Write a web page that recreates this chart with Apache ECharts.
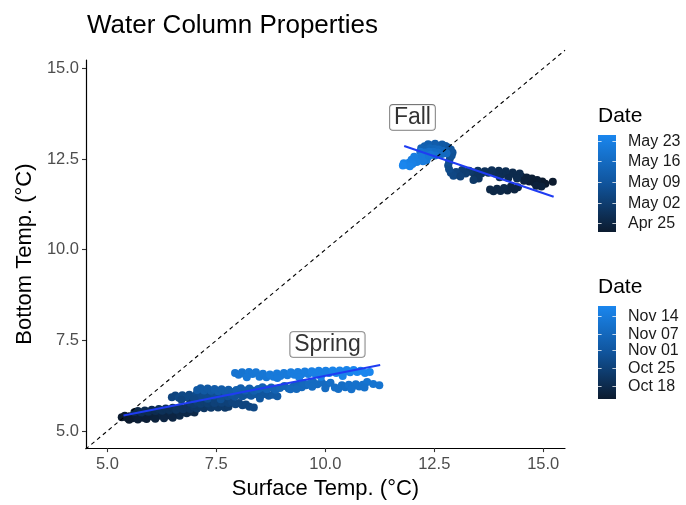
<!DOCTYPE html>
<html>
<head>
<meta charset="utf-8">
<title>Water Column Properties</title>
<script src="https://cdn.jsdelivr.net/npm/echarts@6/dist/echarts.min.js"></script>
<style>
  html, body { margin: 0; padding: 0; background: #ffffff; }
  #chart { width: 686px; height: 505px; }
</style>
</head>
<body>
<div id="chart"></div>
<script>
// Axis tick values
const xTicks = [5, 7.5, 10, 12.5, 15];
const yTicks = [5, 7.5, 10, 12.5, 15];

// Spring observations: [surface temp, bottom temp, date (MM-DD)]
const springObs = [
  [5.33,5.38,'04-22'],[5.40,5.42,'04-22'],[5.46,5.36,'04-22'],[5.52,5.41,'04-22'],[5.58,5.35,'04-23'],
  [5.64,5.43,'04-23'],[5.70,5.38,'04-23'],[5.76,5.45,'04-23'],[5.82,5.37,'04-23'],[5.88,5.44,'04-24'],
  [5.94,5.40,'04-24'],[6.00,5.47,'04-24'],[6.06,5.39,'04-24'],[6.12,5.46,'04-24'],[6.18,5.42,'04-25'],
  [6.24,5.49,'04-25'],[6.30,5.41,'04-25'],[6.36,5.47,'04-25'],[6.42,5.43,'04-25'],[6.48,5.50,'04-26'],
  [6.54,5.44,'04-26'],[6.60,5.48,'04-26'],[6.66,5.42,'04-26'],[6.74,5.52,'04-26'],[6.82,5.49,'04-26'],
  [6.90,5.53,'04-26'],[7.00,5.51,'04-26'],
  [5.50,5.31,'04-22'],[5.70,5.32,'04-23'],[5.90,5.33,'04-23'],[6.10,5.34,'04-24'],[6.30,5.35,'04-25'],
  [6.50,5.37,'04-25'],
  [5.62,5.52,'04-26'],[5.70,5.55,'04-26'],[5.78,5.51,'04-27'],[5.86,5.57,'04-27'],[5.94,5.53,'04-27'],
  [6.02,5.59,'04-27'],[6.10,5.55,'04-27'],[6.18,5.61,'04-28'],[6.26,5.56,'04-28'],[6.34,5.62,'04-28'],
  [6.42,5.58,'04-28'],[6.50,5.64,'04-28'],[6.58,5.59,'04-29'],[6.66,5.65,'04-29'],[6.74,5.60,'04-29'],
  [6.82,5.66,'04-29'],[6.90,5.61,'04-29'],[6.98,5.67,'04-30'],[7.06,5.62,'04-30'],[7.14,5.68,'04-30'],
  [7.22,5.63,'04-30'],[7.30,5.69,'04-30'],[7.38,5.64,'05-01'],[7.46,5.70,'05-01'],[7.54,5.65,'05-01'],
  [7.62,5.69,'05-01'],[7.70,5.64,'05-01'],[7.78,5.67,'05-01'],
  [6.90,5.78,'05-01'],[6.98,5.74,'05-01'],[7.06,5.80,'05-02'],[7.14,5.75,'05-02'],[7.22,5.81,'05-02'],
  [7.30,5.76,'05-02'],[7.38,5.82,'05-02'],[7.46,5.77,'05-03'],[7.54,5.83,'05-03'],[7.62,5.78,'05-03'],
  [7.70,5.82,'05-03'],[7.78,5.77,'05-03'],[7.86,5.80,'05-04'],[7.94,5.74,'05-04'],[8.02,5.77,'05-04'],
  [8.10,5.71,'05-04'],[8.18,5.73,'05-04'],[8.26,5.67,'05-04'],[8.36,5.65,'05-05'],
  [6.48,5.93,'05-04'],[6.56,5.98,'05-04'],[6.64,5.92,'05-05'],[6.72,5.99,'05-05'],[6.80,5.93,'05-05'],
  [6.88,6.00,'05-05'],[6.96,5.94,'05-05'],[7.04,6.01,'05-06'],[7.12,5.95,'05-06'],[7.20,6.02,'05-06'],
  [7.28,5.96,'05-06'],[7.36,6.02,'05-06'],[7.44,5.97,'05-07'],[7.52,6.03,'05-07'],[7.60,5.97,'05-07'],
  [7.68,6.02,'05-07'],[7.76,5.96,'05-07'],[7.84,6.01,'05-08'],[7.92,5.95,'05-08'],[8.00,6.00,'05-08'],
  [8.10,5.96,'05-08'],[8.20,6.01,'05-08'],[8.30,5.97,'05-09'],[8.40,6.02,'05-09'],[8.50,5.98,'05-09'],
  [8.60,6.02,'05-09'],[8.70,5.97,'05-09'],[8.80,6.00,'05-10'],[8.90,5.96,'05-10'],
  [6.70,5.86,'05-04'],[7.00,5.88,'05-05'],[7.30,5.89,'05-06'],[7.60,5.88,'05-07'],[8.50,5.90,'05-09'],
  [7.06,6.13,'05-10'],[7.14,6.18,'05-10'],[7.22,6.12,'05-10'],[7.30,6.17,'05-10'],[7.38,6.11,'05-10'],
  [7.46,6.16,'05-11'],[7.54,6.10,'05-11'],[7.62,6.15,'05-11'],[7.70,6.09,'05-11'],[7.78,6.14,'05-11'],
  [7.86,6.08,'05-11'],[7.96,6.13,'05-12'],[8.06,6.18,'05-12'],[8.16,6.12,'05-12'],[8.26,6.17,'05-12'],
  [8.36,6.11,'05-12'],[8.46,6.16,'05-13'],[8.56,6.21,'05-13'],[8.66,6.15,'05-13'],[8.76,6.20,'05-13'],
  [8.86,6.14,'05-13'],[8.96,6.19,'05-14'],[9.06,6.24,'05-14'],[9.16,6.17,'05-14'],[9.26,6.22,'05-14'],
  [9.36,6.27,'05-14'],[9.46,6.21,'05-15'],[9.56,6.26,'05-15'],
  [9.20,6.15,'05-15'],[9.34,6.16,'05-15'],[9.50,6.32,'05-15'],[9.62,6.30,'05-16'],[9.72,6.36,'05-16'],
  [9.82,6.29,'05-16'],[9.92,6.34,'05-16'],[10.02,6.27,'05-16'],[10.12,6.33,'05-17'],[10.22,6.20,'05-17'],
  [10.30,6.16,'05-17'],[10.38,6.26,'05-17'],[10.46,6.21,'05-17'],[10.54,6.28,'05-18'],[10.62,6.22,'05-18'],
  [10.70,6.29,'05-18'],[10.78,6.23,'05-18'],[10.86,6.28,'05-18'],[10.96,6.35,'05-19'],[11.10,6.30,'05-19'],
  [11.24,6.26,'05-19'],
  [9.70,6.22,'05-16'],[10.00,6.18,'05-16'],[10.60,6.15,'05-18'],[10.90,6.20,'05-18'],
  [7.93,6.60,'05-19'],[8.01,6.55,'05-19'],[8.09,6.62,'05-19'],[8.17,6.56,'05-19'],[8.25,6.63,'05-20'],
  [8.33,6.57,'05-20'],[8.41,6.62,'05-20'],[8.49,6.50,'05-20'],[8.57,6.58,'05-20'],[8.65,6.48,'05-20'],
  [8.73,6.56,'05-21'],[8.81,6.50,'05-21'],[8.89,6.59,'05-21'],[8.97,6.52,'05-21'],[9.05,6.60,'05-21'],
  [9.13,6.54,'05-21'],[9.21,6.62,'05-22'],[9.29,6.55,'05-22'],[9.37,6.63,'05-22'],[9.45,6.56,'05-22'],
  [9.53,6.64,'05-22'],[9.61,6.57,'05-22'],[9.69,6.65,'05-23'],[9.77,6.58,'05-23'],[9.85,6.66,'05-23'],
  [9.93,6.59,'05-23'],[10.01,6.66,'05-23'],[10.09,6.60,'05-23'],[10.17,6.67,'05-24'],[10.25,6.60,'05-24'],
  [10.33,6.67,'05-24'],[10.41,6.61,'05-24'],[10.49,6.68,'05-24'],[10.57,6.62,'05-24'],[10.65,6.68,'05-25'],
  [10.73,6.63,'05-25'],[10.81,6.66,'05-25'],[10.91,6.60,'05-25'],[11.02,6.63,'05-25'],
  [8.20,6.48,'05-20'],[8.90,6.46,'05-21'],[9.40,6.48,'05-22'],[9.90,6.50,'05-23'],[10.40,6.52,'05-24']
];

// Fall observations: [surface temp, bottom temp, date (MM-DD)]
const fallObs = [
  [15.22,11.87,'10-13'],
  [15.05,11.82,'10-13'],[14.98,11.88,'10-13'],[14.92,11.78,'10-13'],[14.86,11.92,'10-14'],[14.80,11.84,'10-14'],
  [14.74,11.96,'10-14'],[14.68,11.88,'10-14'],[14.62,11.99,'10-15'],[14.56,11.90,'10-15'],[14.50,12.02,'10-15'],
  [14.84,11.76,'10-15'],[14.96,11.74,'10-15'],
  [14.42,11.72,'10-16'],[14.34,11.66,'10-16'],[14.26,11.74,'10-16'],[14.18,11.63,'10-16'],[14.10,11.70,'10-17'],
  [14.02,11.62,'10-17'],[13.94,11.68,'10-17'],[13.86,11.61,'10-17'],[13.78,11.66,'10-17'],
  [14.46,12.10,'10-18'],[14.38,12.04,'10-18'],[14.30,12.13,'10-18'],[14.22,12.06,'10-18'],[14.14,12.16,'10-19'],
  [14.06,12.08,'10-19'],[13.98,12.18,'10-19'],[13.90,12.10,'10-19'],[13.82,12.19,'10-20'],[13.74,12.12,'10-20'],
  [14.40,11.96,'10-18'],[14.20,11.98,'10-18'],[14.00,12.00,'10-19'],
  [13.66,12.16,'10-20'],[13.58,12.10,'10-21'],[13.50,12.18,'10-21'],[13.42,12.08,'10-21'],[13.34,12.15,'10-22'],
  [13.52,11.96,'10-21'],[13.40,11.92,'10-22'],
  [13.30,12.18,'10-23'],[13.22,12.10,'10-24'],[13.14,12.20,'10-24'],[13.06,12.06,'10-25'],[13.00,12.14,'10-26'],
  [12.94,12.04,'10-27'],[13.10,12.02,'10-25'],
  [12.88,12.12,'10-27'],[12.84,12.22,'10-28'],[12.82,12.32,'10-28'],[12.84,12.42,'10-29'],[12.86,12.52,'10-29'],
  [12.90,12.60,'10-30'],[12.92,12.68,'10-30'],[12.88,12.76,'10-31'],[12.82,12.82,'10-31'],
  [12.76,12.86,'11-01'],[12.68,12.90,'11-02'],[12.60,12.86,'11-02'],[12.52,12.92,'11-03'],[12.44,12.87,'11-03'],
  [12.36,12.91,'11-04'],[12.28,12.85,'11-04'],[12.20,12.80,'11-05'],[12.30,12.76,'11-05'],[12.40,12.80,'11-06'],
  [12.50,12.78,'11-06'],[12.60,12.76,'11-07'],[12.70,12.72,'11-07'],[12.78,12.66,'11-08'],[12.68,12.64,'11-08'],
  [12.58,12.68,'11-09'],[12.48,12.70,'11-09'],[12.38,12.70,'11-10'],[12.28,12.68,'11-10'],[12.18,12.70,'11-11'],
  [12.52,12.60,'11-11'],[12.42,12.62,'11-12'],[12.32,12.60,'11-12'],[12.22,12.62,'11-12'],
  [12.36,12.56,'11-13'],[12.32,12.46,'11-13'],[12.28,12.52,'11-13'],[12.20,12.56,'11-14'],[12.24,12.44,'11-14'],
  [12.12,12.50,'11-14'],[12.04,12.56,'11-15'],[11.98,12.48,'11-15'],[12.10,12.42,'11-15'],[11.92,12.40,'11-16'],
  [12.00,12.36,'11-16'],[11.86,12.34,'11-16'],[11.80,12.38,'11-17'],[11.94,12.30,'11-17'],[11.78,12.32,'11-18']
];

// Linear fits per season (endpoints)
const springFit = [[5.37, 5.43], [11.26, 6.82]];
const fallFit = [[11.81, 12.86], [15.24, 11.46]];
// 1:1 reference line
const oneToOne = [[4.5, 4.5], [15.5, 15.5]];
// Season annotations
const seasonLabels = [[10.05, 7.47, 'Spring'], [12.0, 13.73, 'Fall']];

// Colour bar ranges and breaks
const springRange = ['04-22', '05-25'];
const springBreaks = ['05-23', '05-16', '05-09', '05-02', '04-25'];
const springBreakText = ['May 23', 'May 16', 'May 09', 'May 02', 'Apr 25'];
const fallRange = ['10-13', '11-18'];
const fallBreaks = ['11-14', '11-07', '11-01', '10-25', '10-18'];
const fallBreakText = ['Nov 14', 'Nov 07', 'Nov 01', 'Oct 25', 'Oct 18'];

// Date colour ramp (dark navy -> bright blue)
const RAMP = ['#0c1b2f', '#10549c', '#1a86ee'];
const FONT = '"Liberation Sans", Arial, sans-serif';

function dayValue(md) {
  const [m, d] = md.split('-').map(Number);
  return Date.UTC(2021, m - 1, d);
}
const toPoints = rows => rows.map(r => [r[0], r[1], dayValue(r[2])]);

function colorbar(left, top, height, range, breaks, texts) {
  const w = 18;
  const lo = dayValue(range[0]), hi = dayValue(range[1]);
  const pos = md => top + (hi - dayValue(md)) / (hi - lo) * height;
  const els = [
    { type: 'text', left: left, top: top - 29,
      style: { text: 'Date', font: '21px ' + FONT, fill: '#000' } },
    { type: 'rect', shape: { x: left, y: top, width: w, height: height },
      style: { fill: new echarts.graphic.LinearGradient(0, 0, 0, 1, [
        { offset: 0, color: RAMP[2] }, { offset: 0.5, color: RAMP[1] }, { offset: 1, color: RAMP[0] }]) } }
  ];
  breaks.forEach((b, i) => {
    const y = Math.round(pos(b)) + 0.5;
    els.push({ type: 'line', shape: { x1: left, y1: y, x2: left + 3.6, y2: y },
      style: { stroke: 'rgba(255,255,255,0.75)', lineWidth: 1 } });
    els.push({ type: 'line', shape: { x1: left + w - 3.6, y1: y, x2: left + w, y2: y },
      style: { stroke: 'rgba(255,255,255,0.75)', lineWidth: 1 } });
    els.push({ type: 'text', x: left + 30, y: y,
      style: { text: texts[i], font: '16px ' + FONT, fill: '#1a1a1a', verticalAlign: 'middle' } });
  });
  return els;
}

const chart = echarts.init(document.getElementById('chart'), null, { renderer: 'canvas' });

const axisCommon = {
  type: 'value',
  splitLine: { show: false },
  axisLine: { show: true, onZero: false, lineStyle: { color: '#000', width: 1.2 } },
  axisTick: { show: true, length: 4, lineStyle: { color: '#333', width: 1.1 } },
  nameTextStyle: { fontFamily: FONT, fontSize: 22, color: '#000' },
  nameLocation: 'middle'
};

const pointStyle = { opacity: 1 };

chart.setOption({
  animation: false,
  title: {
    text: 'Water Column Properties', left: 82, top: 8,
    textStyle: { fontFamily: FONT, fontSize: 26, fontWeight: 'normal', color: '#000' }
  },
  grid: { left: 86, right: 121, top: 60, bottom: 52 },
  xAxis: Object.assign({}, axisCommon, {
    min: 4.51, max: 15.5, name: 'Surface Temp. (°C)', nameGap: 27,
    axisTick: Object.assign({}, axisCommon.axisTick, { customValues: xTicks }),
    axisLabel: { customValues: xTicks, margin: 8, fontFamily: FONT, fontSize: 16.5, color: '#4d4d4d',
      formatter: v => v.toFixed(1) }
  }),
  yAxis: Object.assign({}, axisCommon, {
    min: 4.53, max: 15.23, name: 'Bottom Temp. (°C)', nameGap: 41,
    axisTick: Object.assign({}, axisCommon.axisTick, { customValues: yTicks }),
    axisLabel: { customValues: yTicks, margin: 7, fontFamily: FONT, fontSize: 16.5, color: '#4d4d4d',
      formatter: v => v.toFixed(1) }
  }),
  visualMap: [
    { type: 'continuous', show: false, seriesIndex: 0, dimension: 2,
      min: dayValue(springRange[0]), max: dayValue(springRange[1]), inRange: { color: RAMP } },
    { type: 'continuous', show: false, seriesIndex: 1, dimension: 2,
      min: dayValue(fallRange[0]), max: dayValue(fallRange[1]), inRange: { color: RAMP } }
  ],
  series: [
    { type: 'scatter', data: toPoints(springObs), symbolSize: 8, itemStyle: pointStyle, silent: true, z: 2 },
    { type: 'scatter', data: toPoints(fallObs), symbolSize: 8, itemStyle: pointStyle, silent: true, z: 2 },
    { type: 'line', data: oneToOne, symbol: 'none', clip: false, silent: true, z: 3,
      lineStyle: { color: '#000', width: 1.1, type: [4, 3.5] } },
    { type: 'line', data: springFit, symbol: 'none', silent: true, z: 4,
      lineStyle: { color: '#1f3cf2', width: 2 } },
    { type: 'line', data: fallFit, symbol: 'none', silent: true, z: 4,
      lineStyle: { color: '#1f3cf2', width: 2 } },
    { type: 'scatter', data: seasonLabels, symbolSize: 0, silent: true, z: 5,
      label: { show: true, position: 'inside', formatter: p => p.value[2], offset: [0, 3],
        fontFamily: FONT, fontSize: 23, color: '#000', backgroundColor: '#fff',
        borderColor: '#555', borderWidth: 0.8, borderRadius: 3, padding: [2, 4, 0, 4] } }
  ],
  graphic: [].concat(
    colorbar(598, 135, 97, springRange, springBreaks, springBreakText),
    colorbar(598, 306, 93, fallRange, fallBreaks, fallBreakText)
  )
});
</script>
</body>
</html>
